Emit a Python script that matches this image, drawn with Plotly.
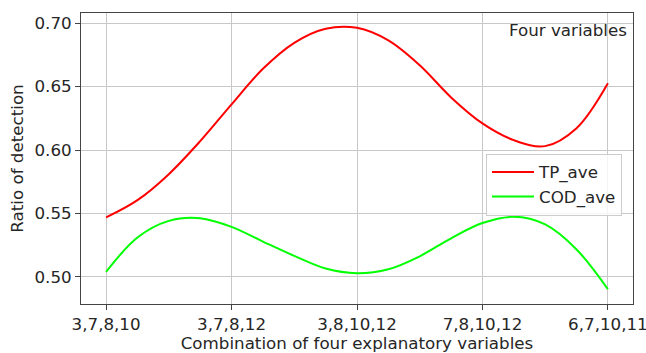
import plotly.graph_objects as go

categories = ["3,7,8,10", "3,7,8,12", "3,8,10,12", "7,8,10,12", "6,7,10,11"]
# curve positions (in category units)
positions = [0, 0.25, 0.5, 0.75, 1, 1.25, 1.5, 1.75, 2, 2.25, 2.5, 2.75, 3, 3.25, 3.5, 3.75, 4]
tp_ave = [0.5469, 0.5605, 0.581, 0.607, 0.636, 0.664, 0.6845, 0.6956, 0.6963, 0.6864,
          0.6668, 0.6415, 0.621, 0.6078, 0.6031, 0.6172, 0.6526]
cod_ave = [0.504, 0.5311, 0.5442, 0.5463, 0.5395, 0.5279, 0.5166, 0.5066, 0.503, 0.5061,
           0.5163, 0.5305, 0.5425, 0.5474, 0.5414, 0.5217, 0.4903]
y_ticks = [0.50, 0.55, 0.60, 0.65, 0.70]

FONT = "DejaVu Sans"
TXT = "#262626"
FS = 16.7

fig = go.Figure()
fig.add_trace(go.Scatter(x=positions, y=tp_ave, mode="lines", name="TP_ave",
                         line=dict(color="#ff0000", width=2, shape="spline", smoothing=1)))
fig.add_trace(go.Scatter(x=positions, y=cod_ave, mode="lines", name="COD_ave",
                         line=dict(color="#00ff00", width=2, shape="spline", smoothing=1)))

axis_common = dict(showline=True, linecolor="#444444", linewidth=1, mirror=True,
                   ticks="outside", ticklen=5, tickcolor="#444444", tickwidth=1,
                   showgrid=True, gridcolor="#c8c8c8", gridwidth=1, zeroline=False,
                   automargin=False, ticklabeloverflow="allow",
                   tickfont=dict(family=FONT, size=FS, color=TXT))

fig.update_xaxes(range=[-0.2, 4.2], tickmode="array", tickvals=list(range(len(categories))),
                 ticktext=categories,
                 title=dict(text="Combination of four explanatory variables",
                            font=dict(family=FONT, size=FS, color=TXT), standoff=2),
                 **axis_common)
fig.update_yaxes(range=[0.4787, 0.708], tickmode="array", tickvals=y_ticks,
                 ticktext=[f"{v:.2f}" for v in y_ticks],
                 title=dict(text="Ratio of detection",
                            font=dict(family=FONT, size=FS, color=TXT), standoff=6),
                 **axis_common)

fig.add_annotation(text="Four variables", xref="paper", yref="paper", x=0.9928, y=0.9416,
                   xanchor="right", yanchor="middle", showarrow=False,
                   font=dict(family=FONT, size=FS, color=TXT))

fig.update_layout(
    width=646, height=353,
    margin=dict(l=81, r=13, t=13, b=49),
    paper_bgcolor="white", plot_bgcolor="white",
    font=dict(family=FONT, size=FS, color=TXT),
    showlegend=True,
    legend=dict(x=0.7337, y=0.517, xanchor="left", yanchor="top",
                bgcolor="rgba(255,255,255,0.8)", bordercolor="#cccccc", borderwidth=1,
                itemwidth=42,
                font=dict(family=FONT, size=FS, color=TXT), tracegroupgap=0),
)

fig.write_html("out.html", config={"displayModeBar": False},
               post_script="document.body.style.margin='0';document.body.style.overflow='hidden';")
